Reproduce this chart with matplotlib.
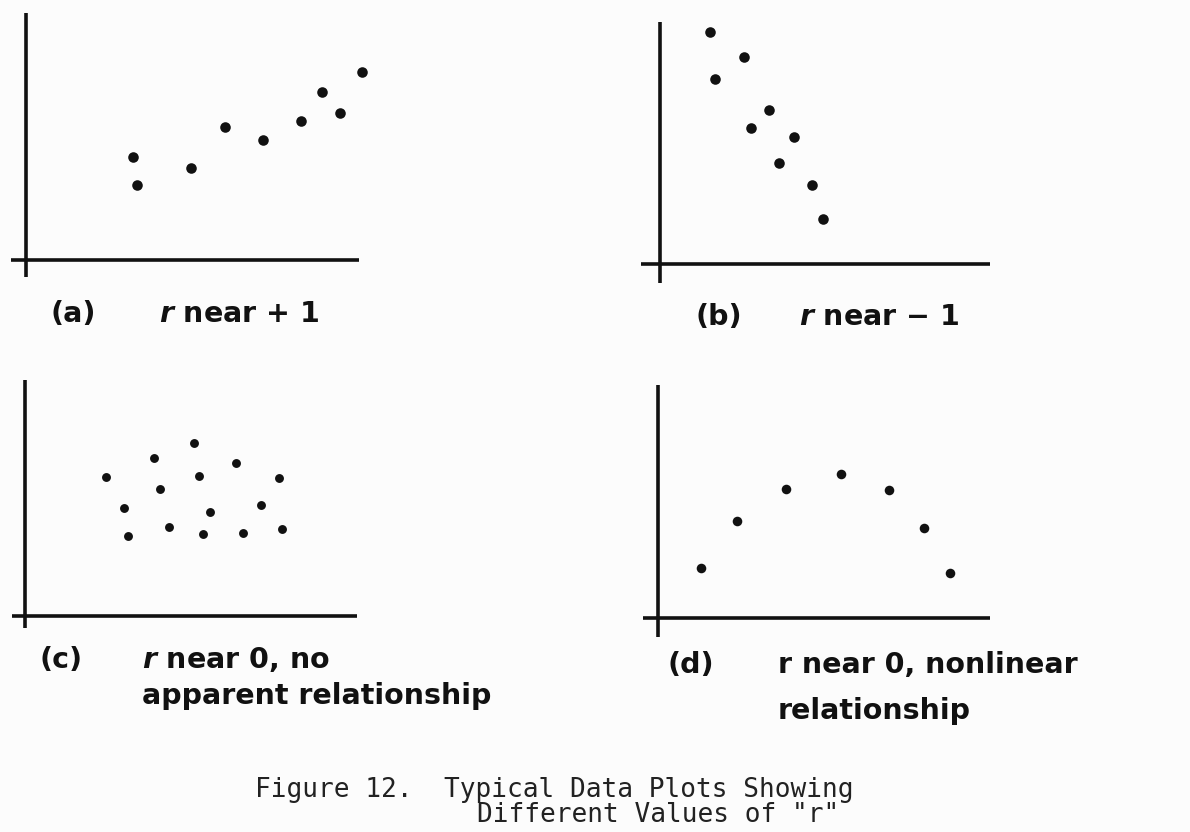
import matplotlib
matplotlib.use("Agg")
import matplotlib.pyplot as plt

W, H = 1190, 832

# point values, in axis units (x axis runs 0..10)
A_X = [3.21, 3.33, 4.95, 5.98, 7.12, 8.26, 8.89, 9.43, 10.09]
A_Y = [3.09, 2.25, 2.76, 3.99, 3.60, 4.17, 5.05, 4.41, 5.65]

B_X = [1.52, 1.68, 2.56, 3.30, 2.76, 4.07, 3.61, 4.60, 4.95]
B_Y = [7.04, 5.61, 6.28, 4.67, 4.13, 3.85, 3.07, 2.40, 1.37]

C_X = [2.44, 2.98, 3.10, 3.89, 4.07, 4.34, 5.09, 5.24, 5.57, 5.36,
       6.36, 6.57, 7.11, 7.65, 7.74]
C_Y = [4.19, 3.25, 2.41, 4.76, 3.83, 2.68, 5.21, 4.22, 3.13, 2.47,
       4.61, 2.50, 3.34, 4.16, 2.62]

D_X = [1.30, 2.38, 3.86, 5.51, 6.96, 8.01, 8.80]
D_Y = [1.51, 2.92, 3.89, 4.34, 3.86, 2.71, 1.36]

TAGS = ["(a)", "(b)", "(c)", "(d)"]
CAPTIONS = [
    ["$r$ near + 1"],
    ["$r$ near \u2212 1"],
    ["$r$ near 0, no", "apparent relationship"],
    ["r near 0, nonlinear", "relationship"],
]
FIG_CAPTION = ["Figure 12.  Typical Data Plots Showing",
               'Different Values of "r"']

# layout: origin (px), px per unit, spine extents, marker size, label spots
PANELS = [
    dict(x=A_X, y=A_Y, origin=(26, 260), s=33.3, xb=(-0.45, 10.0),
         yb=(-0.51, 7.42), ms=7.6, tag=(50, 322), txt=(159, 322)),
    dict(x=B_X, y=B_Y, origin=(660, 264), s=32.95, xb=(-0.59, 10.0),
         yb=(-0.58, 7.34), ms=7.6, tag=(695, 325), txt=(799, 325)),
    dict(x=C_X, y=C_Y, origin=(25, 616), s=33.2, xb=(-0.39, 10.0),
         yb=(-0.36, 7.11), ms=6.4, tag=(40, 668), txt=(142, 668)),
    dict(x=D_X, y=D_Y, origin=(658, 618), s=33.2, xb=(-0.45, 10.0),
         yb=(-0.57, 7.02), ms=6.9, tag=(668, 673), txt=(778, 673)),
]

INK = "#111111"
PAPER = "#fcfcfc"
LINE_GAP = 36

plt.rcParams["mathtext.fontset"] = "custom"
plt.rcParams["mathtext.it"] = "DejaVu Sans:italic:bold"
plt.rcParams["mathtext.rm"] = "DejaVu Sans:bold"

fig = plt.figure(figsize=(W / 100, H / 100), dpi=100)
fig.patch.set_facecolor(PAPER)


def fx(px):
    return px / W


def fy(py):
    return 1 - py / H


for i, p in enumerate(PANELS):
    ox, oy = p["origin"]
    s = p["s"]
    # axes spans -1..11 by -1..8 in data units
    ax = fig.add_axes((fx(ox - s), fy(oy + s), 12 * s / W, 9 * s / H))
    ax.set_xlim(-1, 11)
    ax.set_ylim(-1, 8)
    ax.patch.set_alpha(0)
    for side in ("top", "right"):
        ax.spines[side].set_visible(False)
    ax.spines["left"].set_position(("data", 0))
    ax.spines["bottom"].set_position(("data", 0))
    ax.spines["left"].set_bounds(*p["yb"])
    ax.spines["bottom"].set_bounds(*p["xb"])
    for side in ("left", "bottom"):
        ax.spines[side].set_linewidth(2.6)
        ax.spines[side].set_color(INK)
        ax.spines[side].set_capstyle("butt")
    ax.set_xticks([])
    ax.set_yticks([])
    ax.plot(p["x"], p["y"], "o", color=INK, ms=p["ms"], mew=0,
            clip_on=False)

    tx, ty = p["tag"]
    fig.text(fx(tx), fy(ty), TAGS[i], fontsize=20.5, fontweight="bold",
             color=INK, va="baseline", ha="left")
    cx, cy = p["txt"]
    for j, line in enumerate(CAPTIONS[i]):
        fig.text(fx(cx), fy(cy + j * LINE_GAP + (10 if i == 3 and j else 0)),
                 line, fontsize=20.5, fontweight="bold", color=INK,
                 va="baseline", ha="left")

fig.text(fx(255), fy(797), FIG_CAPTION[0], family="DejaVu Sans Mono",
         fontsize=18.8, color="#222222", va="baseline", ha="left")
fig.text(fx(477), fy(822), FIG_CAPTION[1], family="DejaVu Sans Mono",
         fontsize=18.8, color="#222222", va="baseline", ha="left")

fig.savefig("out.png", dpi=100, facecolor=PAPER)
